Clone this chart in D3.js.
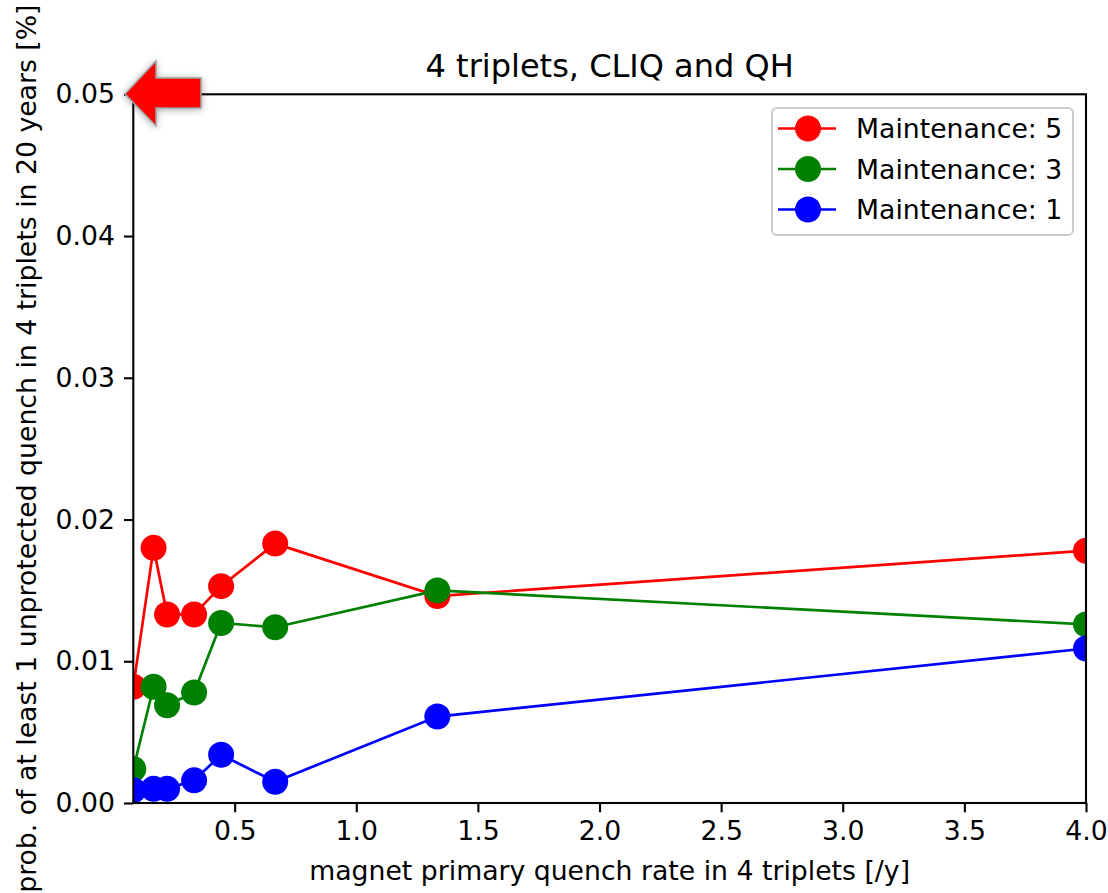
<!DOCTYPE html>
<html>
<head>
<meta charset="utf-8">
<script src="https://cdn.jsdelivr.net/npm/d3@7"></script>
<style>
  html, body { margin: 0; padding: 0; background: #fff; }
  svg { display: block; font-family: "DejaVu Sans", sans-serif; }
</style>
</head>
<body>
<svg id="chart" width="1108" height="893"></svg>
<script>
// Primary quench rate in 4 triplets [/y]
const rates = [4/48, 4/24, 4/18, 4/12, 4/9, 4/6, 4/3, 4];

// Probability of at least one unprotected quench in 20 years [%]
const maint5 = [0.0082, 0.0180, 0.0133, 0.0133, 0.0153, 0.0183, 0.0146, 0.0178];
const maint3 = [0.0024, 0.0082, 0.0069, 0.0078, 0.0127, 0.0124, 0.0150, 0.0126];
const maint1 = [0.0009, 0.0010, 0.0010, 0.0016, 0.0034, 0.0015, 0.0061, 0.0109];

const seriesNames = ["Maintenance: 5", "Maintenance: 3", "Maintenance: 1"];
const seriesColors = ["#ff0000", "#008000", "#0000ff"];
const seriesValues = [maint5, maint3, maint1];

const xTicks = [0.5, 1.0, 1.5, 2.0, 2.5, 3.0, 3.5, 4.0];
const yTicks = [0.00, 0.01, 0.02, 0.03, 0.04, 0.05];

const titleText = "4 triplets, CLIQ and QH";
const xLabelText = "magnet primary quench rate in 4 triplets [/y]";
const yLabelText = "prob. of at least 1 unprotected quench in 4 triplets in 20 years [%]";

const svg = d3.select("#chart");
const plot = { left: 133.3, right: 1086, top: 94.3, bottom: 803 };
const fs = 26.7;

const x = d3.scaleLinear().domain([4/48, 4]).range([plot.left, plot.right]);
const y = d3.scaleLinear().domain([0, 0.05]).range([plot.bottom, plot.top]);

const defs = svg.append("defs");
defs.append("clipPath").attr("id", "plotClip")
  .append("rect")
  .attr("x", plot.left).attr("y", plot.top)
  .attr("width", plot.right - plot.left).attr("height", plot.bottom - plot.top);
const shadow = defs.append("filter").attr("id", "arrowShadow")
  .attr("x", "-30%").attr("y", "-30%").attr("width", "160%").attr("height", "160%");
shadow.append("feDropShadow")
  .attr("dx", 0).attr("dy", 1).attr("stdDeviation", 3.5)
  .attr("flood-color", "#000").attr("flood-opacity", 0.35);

// Series lines and markers
const dataLayer = svg.append("g").attr("clip-path", "url(#plotClip)");
const line = d3.line().x((d, i) => x(rates[i])).y(d => y(d));

seriesValues.forEach((vals, s) => {
  const g = dataLayer.append("g");
  g.append("path")
    .datum(vals)
    .attr("d", line)
    .attr("fill", "none")
    .attr("stroke", seriesColors[s])
    .attr("stroke-width", 2.7);
  g.selectAll("circle")
    .data(vals)
    .join("circle")
    .attr("cx", (d, i) => x(rates[i]))
    .attr("cy", d => y(d))
    .attr("r", 13)
    .attr("fill", seriesColors[s]);
});

// Axes
const xAxis = d3.axisBottom(x).tickValues(xTicks).tickFormat(d3.format(".1f"))
  .tickSize(9.3).tickPadding(9);
const yAxis = d3.axisLeft(y).tickValues(yTicks).tickFormat(d3.format(".2f"))
  .tickSize(9.3).tickPadding(9);

const gx = svg.append("g").attr("transform", `translate(0,${plot.bottom})`).call(xAxis);
const gy = svg.append("g").attr("transform", `translate(${plot.left},0)`).call(yAxis);
[gx, gy].forEach(g => {
  g.select(".domain").remove();
  g.selectAll(".tick line").attr("stroke", "#000").attr("stroke-width", 2.1);
  g.selectAll(".tick text").attr("fill", "#000").style("font-size", fs + "px")
    .style("font-family", "DejaVu Sans, sans-serif");
});

// Spines
svg.append("rect")
  .attr("x", plot.left).attr("y", plot.top)
  .attr("width", plot.right - plot.left).attr("height", plot.bottom - plot.top)
  .attr("fill", "none").attr("stroke", "#000").attr("stroke-width", 2.1);

// Title and axis labels
svg.append("text")
  .attr("x", (plot.left + plot.right) / 2).attr("y", 77)
  .attr("text-anchor", "middle").style("font-size", "32px").attr("fill", "#000")
  .text(titleText);
svg.append("text")
  .attr("x", (plot.left + plot.right) / 2).attr("y", 880)
  .attr("text-anchor", "middle").style("font-size", fs + "px").attr("fill", "#000")
  .text(xLabelText);
svg.append("text")
  .attr("transform", `translate(36,${(plot.top + plot.bottom) / 2}) rotate(-90)`)
  .attr("text-anchor", "middle").style("font-size", fs + "px").attr("fill", "#000")
  .text(yLabelText);

// Legend
const legend = svg.append("g").attr("transform", "translate(772,108)");
legend.append("rect")
  .attr("width", 301).attr("height", 127).attr("rx", 5)
  .attr("fill", "#fff").attr("fill-opacity", 0.8)
  .attr("stroke", "#cccccc").attr("stroke-width", 2);
seriesNames.forEach((name, s) => {
  const cy = 20.5 + s * 40.5;
  const row = legend.append("g").attr("transform", `translate(0,${cy})`);
  row.append("line").attr("x1", 6).attr("x2", 64).attr("y1", 0).attr("y2", 0)
    .attr("stroke", seriesColors[s]).attr("stroke-width", 2.7);
  row.append("circle").attr("cx", 36).attr("cy", 0).attr("r", 13)
    .attr("fill", seriesColors[s]);
  row.append("text").attr("x", 84).attr("y", 9.5)
    .style("font-size", fs + "px").attr("fill", "#000").text(name);
});

// Red marker arrow pointing at the top tick label
const arrow = d3.path();
arrow.moveTo(125, 94);
arrow.lineTo(156, 61);
arrow.lineTo(156, 78);
arrow.lineTo(201, 78);
arrow.lineTo(201, 108);
arrow.lineTo(156, 108);
arrow.lineTo(156, 126);
arrow.closePath();
svg.append("path")
  .attr("d", arrow.toString())
  .attr("fill", "#ff0000")
  .attr("stroke", "#a0a0a0").attr("stroke-width", 1.5)
  .attr("filter", "url(#arrowShadow)");
</script>
</body>
</html>
